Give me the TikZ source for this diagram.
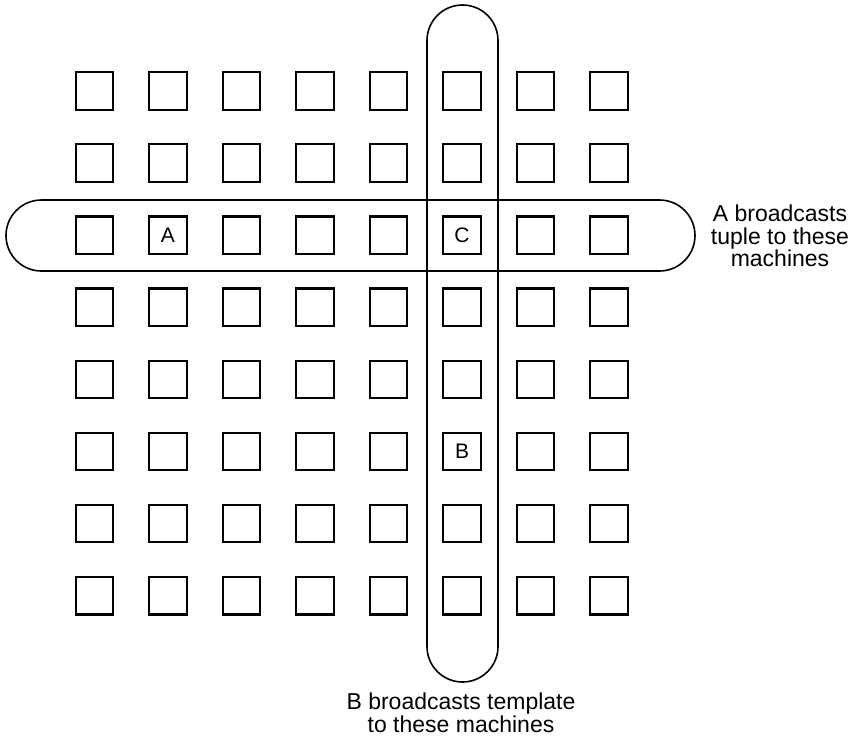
\documentclass[tikz,border=0pt]{standalone}
\usepackage{fontspec}
\setmainfont{Liberation Sans}
\begin{document}
\begin{tikzpicture}[x=1pt,y=-1pt,
  cell/.style={draw,line width=2.2pt,minimum size=37.5pt,inner sep=0pt},
  cellname/.style={font=\fontsize{21}{21}\selectfont,inner sep=0pt},
  band/.style={draw,line width=1.6pt,rounded corners=35.5pt,inner sep=0pt},
  lbl/.style={align=center,font=\fontsize{23}{22.5}\selectfont}]
\useasboundingbox (0,0) rectangle (857,740);
\foreach \c in {1,...,8}{
  \foreach \r in {1,...,8}{
    \node[cell] (s\c-\r) at ({94.5+73.5*(\c-1)},{91+72.1*(\r-1)}) {};
  }
}
\node[cellname] (la) at (s2-3) {A};
\node[cellname] (lc) at (s6-3) {C};
\node[cellname] (lb) at (s6-6) {B};
\node[band,minimum width=689pt,minimum height=71pt] (hband) at (350.5,235.5) {};
\node[band,minimum width=71pt,minimum height=677pt] (vband) at (462.5,343.5) {};
\node[lbl] (ta) at (780,236) {A broadcasts\\tuple to these\\machines};
\node[lbl] (tb) at (461,713) {B broadcasts template\\to these machines};
\end{tikzpicture}
\end{document}
